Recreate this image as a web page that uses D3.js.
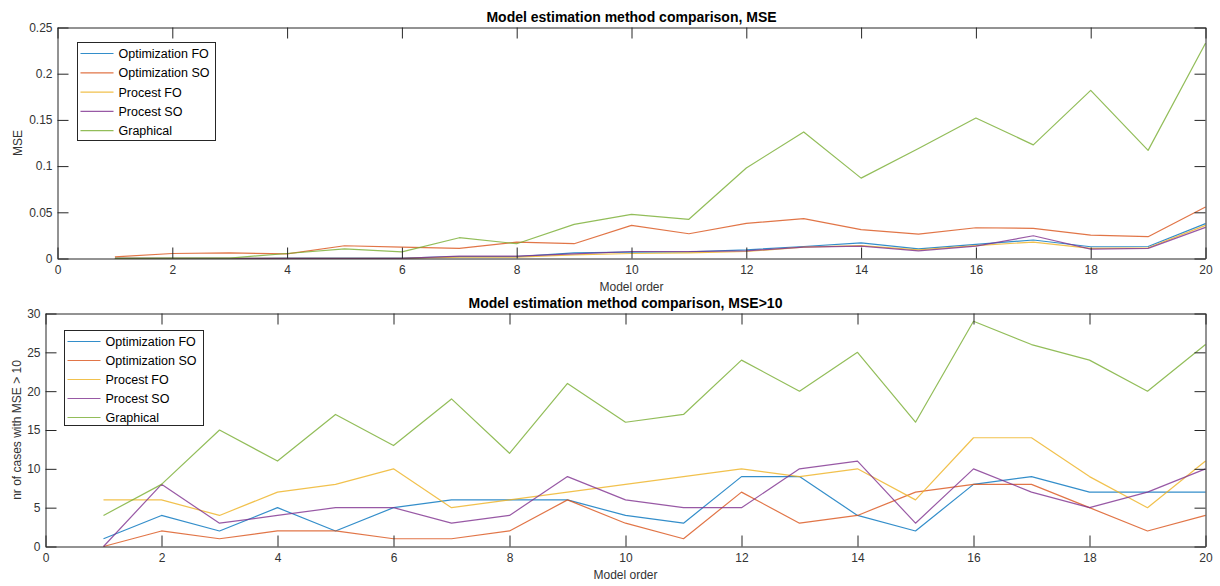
<!DOCTYPE html>
<html>
<head>
<meta charset="utf-8">
<script src="https://cdn.jsdelivr.net/npm/d3@7/dist/d3.min.js"></script>
<style>
  html, body { margin: 0; padding: 0; background: #fff; }
  svg { display: block; font-family: "Liberation Sans", Arial, Helvetica, sans-serif; }
</style>
</head>
<body>
<svg id="chart" width="1220" height="586"></svg>
<script>
// Model order on the x axis
const modelOrder = d3.range(1, 21);

const seriesNames = ["Optimization FO", "Optimization SO", "Procest FO", "Procest SO", "Graphical"];
const seriesColors = ["#0072BD", "#D95319", "#EDB120", "#7E2F8E", "#77AC30"];

// Mean squared error per method
const mseOptFO   = [0.0002,0.0002,0.0002,0.0003,0.0003,0.0003,0.002,0.002,0.006,0.007,0.0072,0.0094,0.013,0.017,0.0105,0.0152,0.020,0.0127,0.013,0.0377];
const mseOptSO   = [0.0018,0.0054,0.006,0.005,0.0138,0.0123,0.0109,0.0178,0.016,0.0359,0.0268,0.038,0.0431,0.0312,0.0264,0.0333,0.0326,0.0254,0.0236,0.0558];
const mseProcFO  = [0.0001,0.0001,0.0001,0.0002,0.0002,0.0002,0.0015,0.0015,0.004,0.0054,0.006,0.0076,0.0123,0.014,0.0094,0.014,0.0178,0.0109,0.0116,0.0359];
const mseProcSO  = [0.0001,0.0001,0.0002,0.0002,0.0002,0.0002,0.0025,0.0025,0.005,0.0076,0.0076,0.0083,0.0123,0.0134,0.0083,0.0134,0.0246,0.0101,0.0109,0.0337];
const mseGraph   = [0.0002,0.0003,0.0005,0.0054,0.0105,0.0072,0.0225,0.016,0.037,0.0478,0.0424,0.098,0.137,0.087,0.119,0.152,0.123,0.182,0.117,0.233];

// Number of cases with MSE > 10 per method
const cntOptFO   = [1,4,2,5,2,5,6,6,6,4,3,9,9,4,2,8,9,7,7,7];
const cntOptSO   = [0,2,1,2,2,1,1,2,6,3,1,7,3,4,7,8,8,5,2,4];
const cntProcFO  = [6,6,4,7,8,10,5,6,7,8,9,10,9,10,6,14,14,9,5,11];
const cntProcSO  = [0,8,3,4,5,5,3,4,9,6,5,5,10,11,3,10,7,5,7,10];
const cntGraph   = [4,8,15,11,17,13,19,12,21,16,17,24,20,25,16,29,26,24,20,26];

const xTicks = d3.range(0, 21, 2);
const mseTicks = [0, 0.05, 0.1, 0.15, 0.2, 0.25];
const mseTickLabels = ["0", "0.05", "0.1", "0.15", "0.2", "0.25"];
const cntTicks = [0, 5, 10, 15, 20, 25, 30];

const svg = d3.select("#chart");
const axisColor = "#262626";
const tickLen = 11;

function drawPanel(cfg) {
  const { left, right, top, bottom } = cfg.box;
  const x = d3.scaleLinear().domain([0, 20]).range([left, right]);
  const y = d3.scaleLinear().domain(cfg.yDomain).range([bottom, top]);
  const g = svg.append("g");

  // data lines
  const line = d3.line().x((d, i) => x(modelOrder[i])).y(d => y(d));
  cfg.series.forEach((vals, k) => {
    g.append("path")
      .attr("d", line(vals))
      .attr("fill", "none")
      .attr("stroke", seriesColors[k])
      .attr("stroke-opacity", 0.8)
      .attr("stroke-width", 1.2)
      .attr("stroke-linejoin", "round");
  });

  const styleAxis = sel => {
    sel.selectAll("path.domain").attr("stroke", axisColor).attr("stroke-width", 1);
    sel.selectAll(".tick line").attr("stroke", axisColor).attr("stroke-width", 1);
    sel.selectAll(".tick text").attr("fill", "#333").attr("font-size", 12)
      .attr("font-family", "Liberation Sans, Arial, sans-serif");
  };

  g.append("g").attr("transform", `translate(0,${bottom})`)
    .call(d3.axisBottom(x).tickValues(xTicks).tickSizeInner(-tickLen).tickSizeOuter(0).tickPadding(7))
    .call(styleAxis);
  g.append("g").attr("transform", `translate(0,${top})`)
    .call(d3.axisTop(x).tickValues(xTicks).tickSizeInner(-tickLen).tickSizeOuter(0).tickFormat(""))
    .call(styleAxis);
  g.append("g").attr("transform", `translate(${left},0)`)
    .call(d3.axisLeft(y).tickValues(cfg.yTicks).tickSizeInner(-tickLen).tickSizeOuter(0).tickPadding(5)
      .tickFormat((d, i) => cfg.yTickLabels[i]))
    .call(styleAxis);
  g.append("g").attr("transform", `translate(${right},0)`)
    .call(d3.axisRight(y).tickValues(cfg.yTicks).tickSizeInner(-tickLen).tickSizeOuter(0).tickFormat(""))
    .call(styleAxis);

  // title
  g.append("text")
    .attr("x", (left + right) / 2).attr("y", top - 6)
    .attr("text-anchor", "middle").attr("font-size", 14).attr("font-weight", "bold")
    .attr("fill", "#000").text(cfg.title);

  // x label
  g.append("text")
    .attr("x", (left + right) / 2).attr("y", bottom + 32)
    .attr("text-anchor", "middle").attr("font-size", 12).attr("fill", "#333")
    .text("Model order");

  // y label
  g.append("text")
    .attr("transform", `translate(${cfg.yLabelX},${(top + bottom) / 2}) rotate(-90)`)
    .attr("text-anchor", "middle").attr("font-size", 12).attr("fill", "#333")
    .text(cfg.yLabel);

  // legend
  const L = cfg.legend;
  const lg = g.append("g");
  lg.append("rect")
    .attr("x", L.x).attr("y", L.y).attr("width", L.w).attr("height", L.h)
    .attr("fill", "#fff").attr("stroke", axisColor).attr("stroke-width", 1);
  seriesNames.forEach((name, k) => {
    const yy = L.y + 11 + k * L.step;
    lg.append("line")
      .attr("x1", L.x + 3).attr("x2", L.x + 36).attr("y1", yy).attr("y2", yy)
      .attr("stroke", seriesColors[k]).attr("stroke-opacity", 0.8).attr("stroke-width", 1.2);
    lg.append("text")
      .attr("x", L.x + 41).attr("y", yy).attr("dy", "0.36em")
      .attr("font-size", 12.5).attr("fill", "#000").text(name);
  });
}

drawPanel({
  box: { left: 57.5, right: 1205.5, top: 27.5, bottom: 258.5 },
  yDomain: [0, 0.25],
  yTicks: mseTicks,
  yTickLabels: mseTickLabels,
  series: [mseOptFO, mseOptSO, mseProcFO, mseProcSO, mseGraph],
  title: "Model estimation method comparison, MSE",
  yLabel: "MSE",
  yLabelX: 22,
  legend: { x: 77.5, y: 42.5, w: 138, h: 98, step: 19.3 }
});

drawPanel({
  box: { left: 45.5, right: 1205.5, top: 313.5, bottom: 546.5 },
  yDomain: [0, 30],
  yTicks: cntTicks,
  yTickLabels: cntTicks.map(String),
  series: [cntOptFO, cntOptSO, cntProcFO, cntProcSO, cntGraph],
  title: "Model estimation method comparison, MSE>10",
  yLabel: "nr of cases with MSE > 10",
  yLabelX: 21,
  legend: { x: 64.5, y: 330.5, w: 139, h: 95, step: 19 }
});
</script>
</body>
</html>
